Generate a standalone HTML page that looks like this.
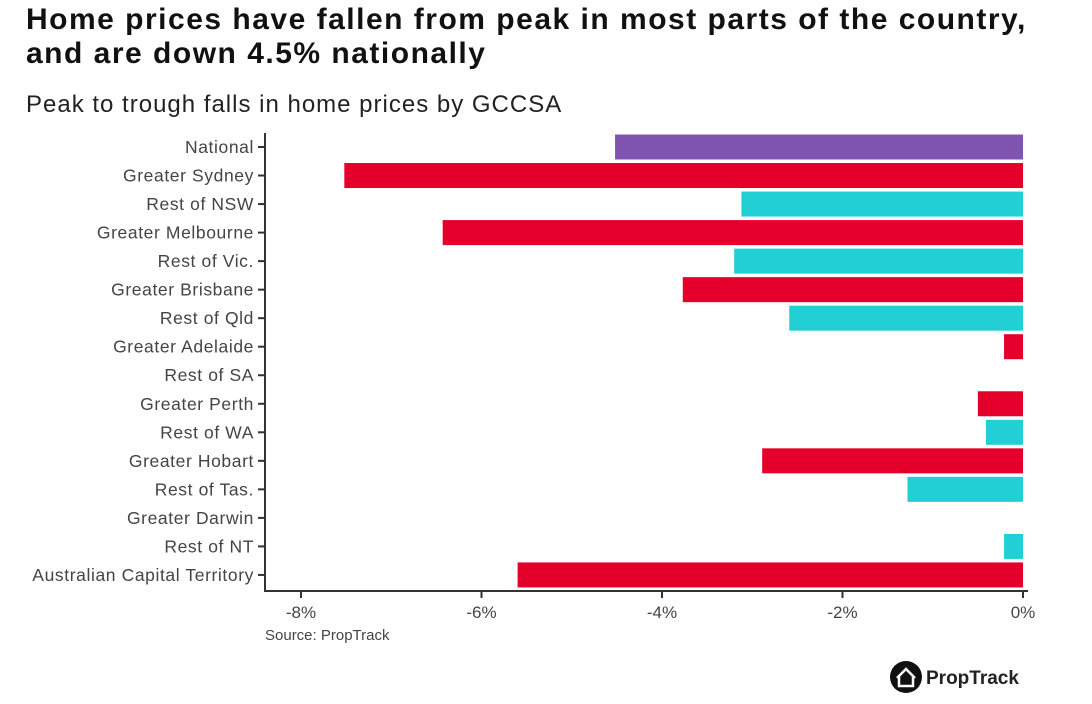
<!DOCTYPE html>
<html><head><meta charset="utf-8"><style>
body{margin:0;background:#fff;width:1092px;height:704px;overflow:hidden;font-family:"Liberation Sans",sans-serif}
.t{position:absolute;left:26px;top:3px;font-size:30px;font-weight:bold;line-height:34px;color:#111;letter-spacing:1.5px;white-space:nowrap}
.s{position:absolute;left:26px;top:91px;font-size:24px;color:#222;letter-spacing:1px;white-space:nowrap}
</style></head><body>
<div class="t">Home prices have fallen from peak in most parts of the country,<br>and are down 4.5% nationally</div>
<div class="s">Peak to trough falls in home prices by GCCSA</div>
<svg id="c" width="1092" height="704" style="position:absolute;left:0;top:0"></svg>
<script>
const categories=["National","Greater Sydney","Rest of NSW","Greater Melbourne","Rest of Vic.","Greater Brisbane","Rest of Qld","Greater Adelaide","Rest of SA","Greater Perth","Rest of WA","Greater Hobart","Rest of Tas.","Greater Darwin","Rest of NT","Australian Capital Territory"];
const values=[-4.52,-7.52,-3.12,-6.43,-3.2,-3.77,-2.59,-0.21,0,-0.5,-0.41,-2.89,-1.28,0,-0.21,-5.6];
const groups=["national","capital","rest","capital","rest","capital","rest","capital","rest","capital","rest","capital","rest","capital","rest","capital"];
const ticks=[-8,-6,-4,-2,0];
const colors={national:"#7f55b1",capital:"#e4002b",rest:"#22cfd5"};
const svg=document.getElementById('c');const NS="http://www.w3.org/2000/svg";
function x(v){return 1023+v*90.25;}
function y(i){return 147+i*28.53;}
function mk(t,a,p){const e=document.createElementNS(NS,t);for(const k in a)e.setAttribute(k,a[k]);(p||svg).appendChild(e);return e;}
categories.forEach((c,i)=>{
 const v=values[i];
 const r=mk('rect',{x:x(Math.min(v,0)),y:y(i)-12.5,width:Math.abs(x(v)-x(0)),height:25,fill:colors[groups[i]]});
 
 
 const t=mk('text',{x:254,y:y(i)+6,'text-anchor':'end','font-size':17.5,'letter-spacing':0.6,fill:'#444'});t.textContent=c;
 
 
 mk('line',{x1:258,x2:265,y1:y(i),y2:y(i),stroke:'#333','stroke-width':2});
});
ticks.forEach(v=>{
 mk('line',{x1:x(v),x2:x(v),y1:591,y2:598,stroke:'#333','stroke-width':2});
 const t=mk('text',{x:x(v),y:618,'text-anchor':'middle','font-size':17,fill:'#444'});t.textContent=v+'%';
 
 
});
const ax=mk('path',{d:'M265 133V591H1028',fill:'none',stroke:'#333','stroke-width':2});


const src=mk('text',{x:265,y:640,'font-size':15,fill:'#444'});src.textContent='Source: PropTrack';


const g=mk('g',{});


mk('circle',{cx:906,cy:677,r:16,fill:'#111'},g);
mk('path',{d:'M897 678L906 669L915 678M899 676V686H913V676',fill:'none',stroke:'#fff','stroke-width':2.5},g);
const lt=mk('text',{x:926,y:684,'font-size':19,'font-weight':'bold',fill:'#222'},g);lt.textContent='PropTrack';
</script>
</body></html>
